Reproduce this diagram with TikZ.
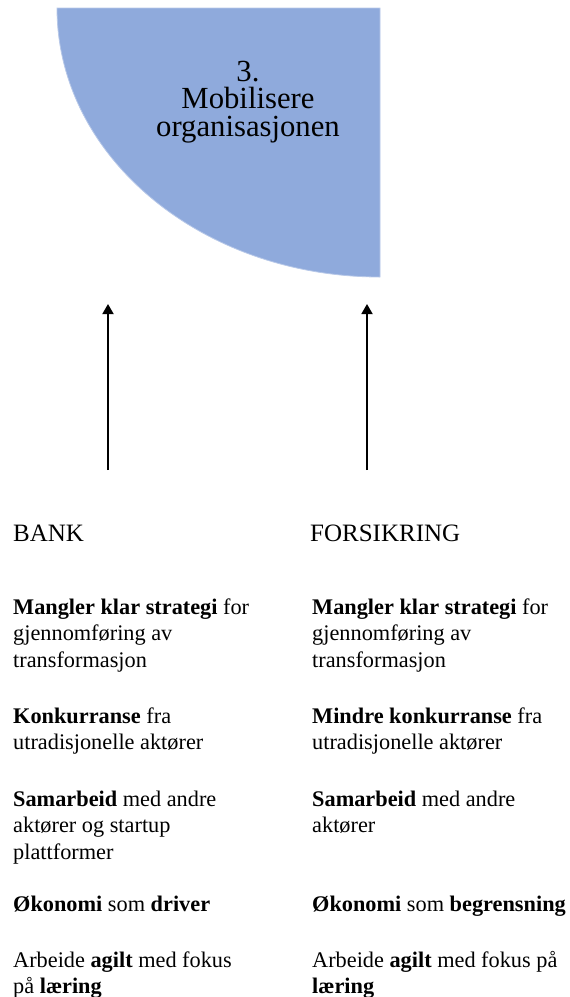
\documentclass[tikz,border=0pt]{standalone}
\usepackage{fontspec}
\setmainfont{Liberation Serif}
\usetikzlibrary{arrows.meta}
\definecolor{phasefill}{HTML}{8FAADC}
\definecolor{phaseedge}{HTML}{B7C8E8}
\newcommand{\tightlines}{\lineskiplimit=-20pt\relax}
% multi-line nodes are placed by the baseline of their last line
\begin{document}
\begin{tikzpicture}[x=1pt,y=-1pt,
    phasetitle/.style={align=center,inner sep=0pt,anchor=base,
      font=\fontsize{30.7}{27.6}\selectfont\tightlines},
    colhead/.style={inner sep=0pt,anchor=base west,
      font=\fontsize{25}{30}\selectfont},
    point/.style={inner sep=0pt,anchor=base west,align=left,
      font=\fontsize{22.3}{26.6}\selectfont\tightlines},
    uparrow/.style={line width=1.8pt,-{Triangle[width=11pt,length=10pt]}}]
  \useasboundingbox (0,0) rectangle (570,997);

  % quarter-ellipse phase segment
  \fill[phasefill,draw=phaseedge,line width=0.8pt]
    (57,8) -- (380,8) -- (380,277)
    .. controls (201.6,277) and (57,156.6) .. (57,8) -- cycle;
  \node[phasetitle] (phase) at (248,136.2) {3.\\Mobilisere\\organisasjonen};

  % arrows pointing up to the segment
  \coordinate (bankfoot) at (108,470);
  \coordinate (banktip) at (108,304);
  \coordinate (forsfoot) at (367,470);
  \coordinate (forstip) at (367,304);
  \draw[uparrow] (bankfoot) -- (banktip);
  \draw[uparrow] (forsfoot) -- (forstip);

  % column headings
  \node[colhead] (bank) at (13,541) {BANK};
  \node[colhead] (fors) at (310,541) {FORSIKRING};

  % bank column
  \node[point] (b1) at (13,667.2) {\textbf{Mangler klar strategi} for\\gjennomføring av\\transformasjon};
  \node[point] (b2) at (13,749.6) {\textbf{Konkurranse} fra\\utradisjonelle aktører};
  \node[point] (b3) at (13,859.2) {\textbf{Samarbeid} med andre\\aktører og startup\\plattformer};
  \node[point] (b4) at (13,911) {\textbf{Økonomi} som \textbf{driver}};
  \node[point] (b5) at (13,993.6) {Arbeide \textbf{agilt} med fokus\\på \textbf{læring}};

  % insurance column
  \node[point] (f1) at (312,667.2) {\textbf{Mangler klar strategi} for\\gjennomføring av\\transformasjon};
  \node[point] (f2) at (312,749.6) {\textbf{Mindre konkurranse} fra\\utradisjonelle aktører};
  \node[point] (f3) at (312,832.6) {\textbf{Samarbeid} med andre\\aktører};
  \node[point] (f4) at (312,911) {\textbf{Økonomi} som \textbf{begrensning}};
  \node[point] (f5) at (312,993.6) {Arbeide \textbf{agilt} med fokus på\\\textbf{læring}};
\end{tikzpicture}
\end{document}
